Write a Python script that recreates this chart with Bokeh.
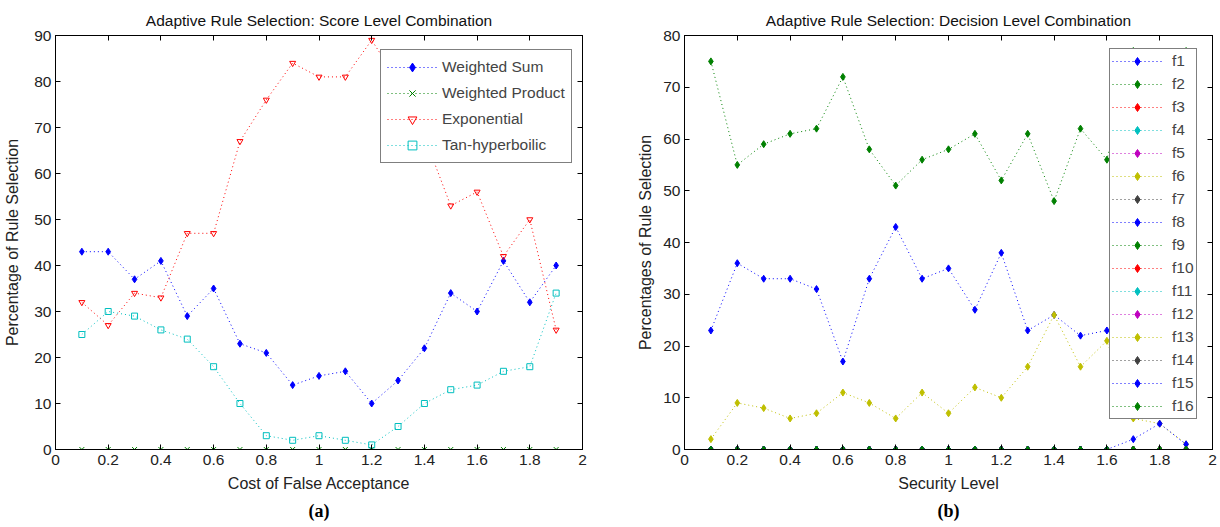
from bokeh.plotting import figure
from bokeh.layouts import row
from bokeh.models import LinearAxis, Range1d, Title, Legend, LegendItem, FixedTicker
from bokeh.embed import file_html
from bokeh.resources import INLINE

# ---------------- data ----------------
x_vals = [0.1, 0.2, 0.3, 0.4, 0.5, 0.6, 0.7, 0.8, 0.9, 1.0,
          1.1, 1.2, 1.3, 1.4, 1.5, 1.6, 1.7, 1.8, 1.9]
x_ticks = [0, 0.2, 0.4, 0.6, 0.8, 1, 1.2, 1.4, 1.6, 1.8, 2]
x_tick_labels = ["0", "0.2", "0.4", "0.6", "0.8", "1", "1.2", "1.4", "1.6", "1.8", "2"]
y_ticks_a = [0, 10, 20, 30, 40, 50, 60, 70, 80, 90]
y_ticks_b = [0, 10, 20, 30, 40, 50, 60, 70, 80]

# (a) score level combination
weighted_sum = [43, 43, 37, 41, 29, 35, 23, 21, 14, 16, 17, 10, 15, 22, 34, 30, 41, 32, 40]
weighted_product = [0, 0, 0, 0, 0, 0, 0, 0, 0, 0, 0, 0, 0, 0, 0, 0, 0, 0, 0]
exponential = [32, 27, 34, 33, 47, 47, 67, 76, 84, 81, 81, 89, 80, 68, 53, 56, 42, 50, 26]
tan_hyperbolic = [25, 30, 29, 26, 24, 18, 10, 3, 2, 3, 2, 1, 5, 10, 13, 14, 17, 18, 34]

# (b) decision level combination
f1 = [23, 36, 33, 33, 31, 17, 33, 43, 33, 35, 27, 38, 23, 26, 22, 23, 15, 20, 21]
f2 = [75, 55, 59, 61, 62, 72, 58, 51, 56, 58, 61, 52, 61, 48, 62, 56, 77, 70, 77]
f3 = [0, 0, 0, 0, 0, 0, 0, 0, 0, 0, 0, 0, 0, 0, 0, 0, 0, 0, 0]
f4 = [0, 0, 0, 0, 0, 0, 0, 0, 0, 0, 0, 0, 0, 0, 0, 0, 0, 0, 0]
f5 = [0, 0, 0, 0, 0, 0, 0, 0, 0, 0, 0, 0, 0, 0, 0, 0, 0, 0, 0]
f6 = [0, 0, 0, 0, 0, 0, 0, 0, 0, 0, 0, 0, 0, 0, 0, 0, 0, 0, 0]
f7 = [0, 0, 0, 0, 0, 0, 0, 0, 0, 0, 0, 0, 0, 0, 0, 0, 0, 0, 0]
f8 = [0, 0, 0, 0, 0, 0, 0, 0, 0, 0, 0, 0, 0, 0, 0, 0, 0, 0, 0]
f9 = [0, 0, 0, 0, 0, 0, 0, 0, 0, 0, 0, 0, 0, 0, 0, 0, 0, 0, 0]
f10 = [0, 0, 0, 0, 0, 0, 0, 0, 0, 0, 0, 0, 0, 0, 0, 0, 0, 0, 0]
f11 = [0, 0, 0, 0, 0, 0, 0, 0, 0, 0, 0, 0, 0, 0, 0, 0, 0, 0, 0]
f12 = [0, 0, 0, 0, 0, 0, 0, 0, 0, 0, 0, 0, 0, 0, 0, 0, 0, 0, 0]
f13 = [2, 9, 8, 6, 7, 11, 9, 6, 11, 7, 12, 10, 16, 26, 16, 21, 6, 5, 1]
f14 = [0, 0, 0, 0, 0, 0, 0, 0, 0, 0, 0, 0, 0, 0, 0, 0, 0, 0, 0]
f15 = [0, 0, 0, 0, 0, 0, 0, 0, 0, 0, 0, 0, 0, 0, 0, 0, 2, 5, 1]
f16 = [0, 0, 0, 0, 0, 0, 0, 0, 0, 0, 0, 0, 0, 0, 0, 0, 0, 0, 0]
f_names = ["f1", "f2", "f3", "f4", "f5", "f6", "f7", "f8",
           "f9", "f10", "f11", "f12", "f13", "f14", "f15", "f16"]
f_series = [f1, f2, f3, f4, f5, f6, f7, f8, f9, f10, f11, f12, f13, f14, f15, f16]

# ---------------- styling ----------------
FONT = "Liberation Sans"
BLUE, GREEN, RED, CYAN, MAG, YEL, GRAY = "#0000ff", "#008000", "#ff0000", "#00bfbf", "#bf00bf", "#bfbf00", "#404040"
cycle = [BLUE, GREEN, RED, CYAN, MAG, YEL, GRAY]
DASH = "1 3"


def make_fig(title, xlabel, ylabel, sub, ymax, yticks, bl, br, ylab_standoff):
    p = figure(width=610, height=527, x_range=Range1d(0, 2), y_range=Range1d(0, ymax),
               output_backend="svg", toolbar_location=None,
               min_border_left=bl, min_border_right=br, min_border_top=35, min_border_bottom=78)
    p.grid.visible = False
    p.outline_line_color = "black"
    p.outline_line_width = 1
    overrides = {t: l for t, l in zip(x_ticks, x_tick_labels)}

    for ax in (p.xaxis[0], p.yaxis[0]):
        ax.major_tick_in = 5
        ax.major_tick_out = 0
        ax.minor_tick_line_color = None
        ax.axis_line_color = "black"
        ax.major_tick_line_color = "black"
        ax.major_label_text_font = FONT
        ax.major_label_text_font_size = "15.5px"
        ax.major_label_text_color = "#222222"
        ax.axis_label_text_font = FONT
        ax.axis_label_text_font_size = "16px"
        ax.axis_label_text_font_style = "normal"
        ax.axis_label_text_color = "#222222"
    p.xaxis[0].ticker = FixedTicker(ticks=x_ticks)
    p.xaxis[0].major_label_overrides = overrides
    p.xaxis[0].major_label_standoff = 5
    p.xaxis[0].axis_label = xlabel
    p.xaxis[0].axis_label_standoff = 7
    p.yaxis[0].ticker = FixedTicker(ticks=yticks)
    p.yaxis[0].major_label_standoff = 4
    p.yaxis[0].axis_label = ylabel
    p.yaxis[0].axis_label_standoff = ylab_standoff

    top = LinearAxis(ticker=FixedTicker(ticks=x_ticks), major_label_text_font_size="0px",
                     major_label_text_color=None,
                     major_tick_in=5, major_tick_out=0, minor_tick_line_color=None,
                     major_label_standoff=0, axis_line_color="black")
    right = LinearAxis(ticker=FixedTicker(ticks=yticks), major_label_text_font_size="0px",
                       major_label_text_color=None,
                       major_tick_in=5, major_tick_out=0, minor_tick_line_color=None,
                       major_label_standoff=0, axis_line_color="black")
    p.add_layout(top, "above")
    p.add_layout(right, "right")
    p.add_layout(Title(text=title, align="center", vertical_align="top", text_font=FONT,
                       text_font_size="15.5px", text_font_style="normal", text_color="#111111",
                       standoff=10), "above")
    p.add_layout(Title(text=sub, align="center", text_font="Liberation Serif", text_font_size="18px",
                       text_font_style="bold", text_color="black", standoff=9), "below")
    return p


# ---------------- (a) ----------------
pa = make_fig("Adaptive Rule Selection: Score Level Combination", "Cost of False Acceptance",
              "Percentage of Rule Selection", "(a)", 90, y_ticks_a, 55, 28, 10)
items = []
specs = [("Weighted Sum", weighted_sum, BLUE, "diamond", 7, True),
         ("Weighted Product", weighted_product, GREEN, "x", 7, False),
         ("Exponential", exponential, RED, "inverted_triangle", 6, False),
         ("Tan-hyperboilic", tan_hyperbolic, CYAN, "square", 6, False)]
for name, ys, col, mk, sz, filled in specs:
    l = pa.line(x_vals, ys, line_color=col, line_dash=DASH, line_width=1)
    s = pa.scatter(x_vals, ys, marker=mk, size=sz, line_color=col,
                   fill_color=col if filled else None, line_width=1)
    items.append(LegendItem(label=name, renderers=[l, s]))
leg_a = Legend(items=items, location=(325, 286), glyph_width=50, glyph_height=22, label_height=22,
               spacing=4, padding=6, label_standoff=5, border_line_color="black", border_line_width=1,
               label_text_font=FONT, label_text_font_size="15.5px", background_fill_alpha=1,
               margin=0)
pa.add_layout(leg_a)

# ---------------- (b) ----------------
pb = make_fig("Adaptive Rule Selection: Decision Level Combination", "Security Level",
              "Percentages of Rule Selection", "(b)", 80, y_ticks_b, 74, 8, 6)
items_b = []
for i, (name, ys) in enumerate(zip(f_names, f_series)):
    col = cycle[i % 7]
    l = pb.line(x_vals, ys, line_color=col, line_dash=DASH, line_width=1)
    s = pb.scatter(x_vals, ys, marker="diamond", size=7, line_color=col, fill_color=col)
    items_b.append(LegendItem(label=name, renderers=[l, s]))
leg_b = Legend(items=items_b, location=(425, 30), glyph_width=50, glyph_height=20, label_height=20,
               spacing=3, padding=2, label_standoff=10, border_line_color="black", border_line_width=1,
               label_text_font=FONT, label_text_font_size="15.5px", background_fill_alpha=1,
               margin=0)
pb.add_layout(leg_b)

layout = row(pa, pb)
open("out.html", "w").write(file_html(layout, INLINE))
